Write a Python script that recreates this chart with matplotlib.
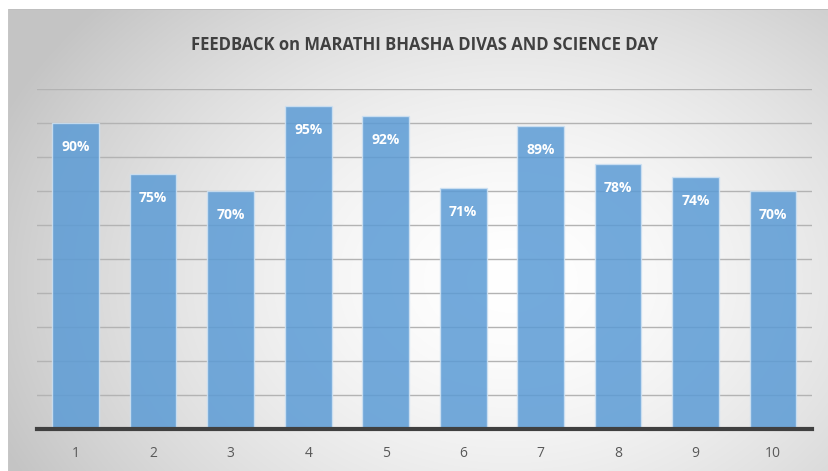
import numpy as np
import matplotlib.pyplot as plt

days = ["1", "2", "3", "4", "5", "6", "7", "8", "9", "10"]
feedback = [90, 75, 70, 95, 92, 71, 89, 78, 74, 70]

plt.rcParams['font.family'] = ['Open Sans', 'DejaVu Sans']

fig = plt.figure(figsize=(8.29, 4.71), dpi=100)

# background: white margin, then grey radial gradient panel
bg = fig.add_axes([0, 0, 1, 1], zorder=0)
bg.set_axis_off()
h, w = 471, 829
yy, xx = np.mgrid[0:h, 0:w]
r = np.sqrt(((xx - 510) / 540.0) ** 2 + ((yy - 280) / 400.0) ** 2)
shade = np.clip(1.0 - 0.22 * r ** 1.6, 0.77, 1.0)
img = np.dstack([shade, shade, shade])
img[:9, :, :] = 1.0
img[:, :8, :] = 1.0
img[9:10, 8:, :] = 0.75
img[9:, 8:9, :] = 0.78
bg.imshow(img, extent=[0, 1, 0, 1], aspect='auto', interpolation='bilinear')

ax = fig.add_axes([37 / 829, 1 - 429 / 471, 775 / 829, 340 / 471], zorder=1)
ax.patch.set_alpha(0)

x = np.arange(1, len(days) + 1)
bars = ax.bar(x, feedback, width=0.6, color='#5b9bd5', alpha=0.85,
              edgecolor='#cfe2f3', linewidth=1, zorder=2)

for xi, v in zip(x, feedback):
    ax.text(xi, v - 5.0, f"{v}%", ha='center', va='top', color='white',
            fontsize=10, fontweight='bold', zorder=3)

ax.set_xlim(0.5, 10.5)
ax.set_ylim(0, 100)
ax.set_yticks(np.arange(10, 101, 10))
ax.yaxis.grid(True, color='#b3b3b3', linewidth=1, zorder=1)
ax.set_axisbelow(True)
ax.tick_params(axis='y', left=False, labelleft=False)
ax.set_xticks(x)
ax.set_xticklabels(days, fontsize=10, color='#595959')
ax.tick_params(axis='x', length=0, pad=12)
for s in ['top', 'right', 'left']:
    ax.spines[s].set_visible(False)
ax.spines['bottom'].set_color('#404040')
ax.spines['bottom'].set_linewidth(3)
ax.spines['bottom'].set_zorder(4)

fig.text(425 / 829, 1 - 45 / 471, "FEEDBACK on MARATHI BHASHA DIVAS AND SCIENCE DAY",
         ha='center', va='center', fontsize=12, fontweight='bold', color='#404040')

fig.savefig("out.png", dpi=100)
